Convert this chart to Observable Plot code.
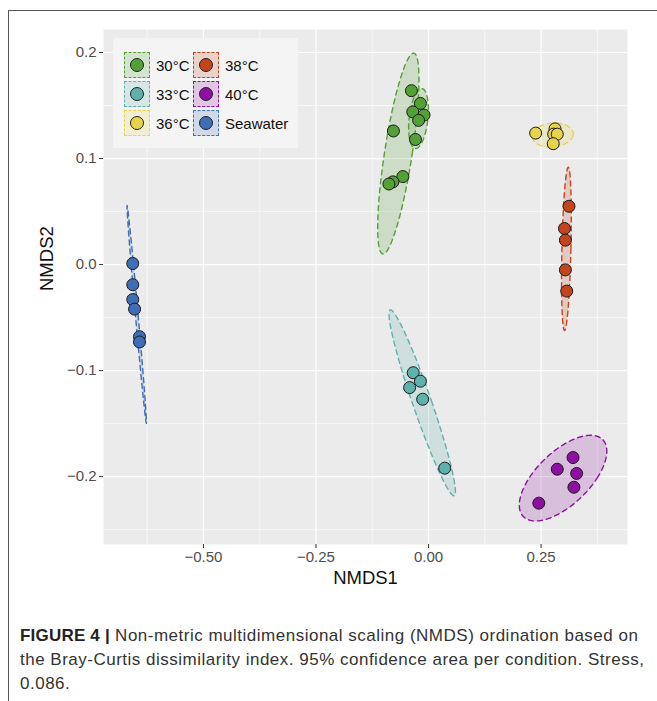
<!DOCTYPE html>
<html>
<head>
<meta charset="utf-8">
<script src="https://cdn.jsdelivr.net/npm/d3@7"></script>
<script src="https://cdn.jsdelivr.net/npm/@observablehq/plot@0.6"></script>
<style>
  html, body { margin: 0; padding: 0; background: #fff; }
  body { width: 657px; height: 701px; position: relative; overflow: hidden; font-family: "Liberation Sans", Arial, sans-serif; }
  #frame { position: absolute; left: 8px; top: 10px; width: 700px; height: 720px; border-left: 1.5px solid #555; border-top: 1.5px solid #555; }
  #chart { position: absolute; left: 0; top: 0; }
  #legend { position: absolute; left: 113px; top: 38px; width: 185px; height: 110px; background: #f4f4f4; }
  .key { position: absolute; width: 26px; height: 26px; box-sizing: border-box; border: 1.5px dashed; }
  .key span { position: absolute; left: 50%; top: 50%; width: 12px; height: 12px; margin: -7px 0 0 -7px; border-radius: 50%; border: 1px solid #222; }
  .lab { position: absolute; font-size: 15px; color: #111; line-height: 17px; }
  #caption { position: absolute; left: 20px; top: 624px; width: 640px; font-size: 17px; letter-spacing: 0.5px; line-height: 24px; color: #333; white-space: nowrap; }
  #caption b { color: #222; letter-spacing: 0.2px; }
</style>
</head>
<body>
<div id="frame"></div>
<div id="chart"></div>
<div id="legend"></div>
<div id="caption"><b>FIGURE 4 |</b> Non-metric multidimensional scaling (NMDS) ordination based on<br>the Bray-Curtis dissimilarity index. 95% confidence area per condition. Stress,<br>0.086.</div>
<script>
// ---- data ----
const groups = ["30°C", "33°C", "36°C", "38°C", "40°C", "Seawater"];
const colors = ["#53a036", "#5fb1ab", "#e7d44b", "#c4441b", "#8e0fa1", "#3f6db6"];

const nmds1_30 = [-0.038, -0.018, -0.035, -0.010, -0.022, -0.078, -0.029, -0.057, -0.079, -0.088];
const nmds2_30 = [0.164, 0.152, 0.144, 0.141, 0.136, 0.126, 0.118, 0.083, 0.078, 0.076];
const nmds1_33 = [-0.034, -0.018, -0.042, -0.013, 0.036];
const nmds2_33 = [-0.102, -0.110, -0.116, -0.127, -0.192];
const nmds1_36 = [0.238, 0.281, 0.278, 0.286, 0.277];
const nmds2_36 = [0.124, 0.128, 0.123, 0.123, 0.114];
const nmds1_38 = [0.312, 0.302, 0.304, 0.304, 0.307];
const nmds2_38 = [0.055, 0.034, 0.023, -0.005, -0.025];
const nmds1_40 = [0.321, 0.286, 0.329, 0.323, 0.245];
const nmds2_40 = [-0.182, -0.193, -0.197, -0.210, -0.225];
const nmds1_sw = [-0.657, -0.657, -0.657, -0.653, -0.642, -0.642];
const nmds2_sw = [0.001, -0.019, -0.033, -0.042, -0.068, -0.073];

// 95% confidence ellipses: centre, topmost point, horizontal half-width through centre
const ellipseGroup = ["30°C", "30°C", "33°C", "36°C", "38°C", "40°C", "Seawater"];
const ellipseCx = [-0.0671, -0.0222, -0.0140, 0.2756, 0.3063, 0.2989, -0.6482];
const ellipseCy = [0.1047, 0.1377, -0.1304, 0.1222, 0.0148, -0.2014, -0.0470];
const ellipseTx = [-0.0333, -0.0156, -0.0844, 0.2800, 0.3104, 0.3600, -0.6696];
const ellipseTy = [0.1994, 0.1660, -0.0427, 0.1335, 0.0918, -0.1610, 0.0557];
const ellipseH = [0.031, 0.021, 0.022, 0.0456, 0.010, 0.0756, 0.003];

const xTicks = [-0.50, -0.25, 0.00, 0.25];
const xMinor = [-0.625, -0.375, -0.125, 0.125, 0.375];
const yTicks = [-0.2, -0.1, 0.0, 0.1, 0.2];
const yMinor = [-0.25, -0.15, -0.05, 0.05, 0.15];

// ---- build tables ----
const seriesX = [nmds1_30, nmds1_33, nmds1_36, nmds1_38, nmds1_40, nmds1_sw];
const seriesY = [nmds2_30, nmds2_33, nmds2_36, nmds2_38, nmds2_40, nmds2_sw];
const points = [];
groups.forEach((g, i) => seriesX[i].forEach((x, j) => points.push({group: g, x, y: seriesY[i][j]})));

const ellipses = ellipseGroup.map((g, k) => {
  const n = 120, pts = [];
  const ux = ellipseTx[k] - ellipseCx[k], uy = ellipseTy[k] - ellipseCy[k];
  for (let i = 0; i < n; i++) {
    const t = 2 * Math.PI * i / n;
    pts.push({x: ellipseCx[k] + ux * Math.sin(t) + ellipseH[k] * Math.cos(t), y: ellipseCy[k] + uy * Math.sin(t)});
  }
  return {group: g, pts};
});
const colorOf = g => colors[groups.indexOf(g)];

const marks = [
  Plot.frame({fill: "#ebebeb", stroke: null}),
  Plot.ruleX(xMinor, {stroke: "#fff", strokeWidth: 0.6}),
  Plot.ruleY(yMinor, {stroke: "#fff", strokeWidth: 0.6}),
  Plot.ruleX(xTicks, {stroke: "#fff", strokeWidth: 1.2}),
  Plot.ruleY(yTicks, {stroke: "#fff", strokeWidth: 1.2}),
];
ellipses.forEach(e => {
  marks.push(Plot.line(e.pts, {x: "x", y: "y", curve: "linear-closed", fill: colorOf(e.group), fillOpacity: 0.2, stroke: "none"}));
  marks.push(Plot.line(e.pts, {x: "x", y: "y", curve: "linear-closed", stroke: colorOf(e.group), strokeWidth: 1.4, strokeDasharray: "5,4"}));
});
marks.push(Plot.dot(points, {x: "x", y: "y", r: 6, fill: d => colorOf(d.group), stroke: "#1a1a1a", strokeWidth: 1}));
marks.push(Plot.axisX(xTicks, {tickSize: 4, tickPadding: 3, fontSize: 15, color: "#4d4d4d", stroke: "#333", tickFormat: d => d3.format(".2f")(d).replace("-", "\u2212"), label: null}));
marks.push(Plot.axisY(yTicks, {tickSize: 4, tickPadding: 3, fontSize: 15, color: "#4d4d4d", stroke: "#333", tickFormat: d => d3.format(".1f")(d).replace("-", "\u2212"), label: null}));
marks.push(Plot.text(["NMDS1"], {frameAnchor: "bottom", dy: 39, fontSize: 18.5, fill: "#111"}));
marks.push(Plot.text(["NMDS2"], {frameAnchor: "left", dx: -56, dy: 4, rotate: -90, fontSize: 18.5, fill: "#111"}));

const chart = Plot.plot({
  width: 657,
  height: 600,
  marginLeft: 103,
  marginRight: 30,
  marginTop: 29,
  marginBottom: 56,
  x: {domain: [-0.722, 0.442]},
  y: {domain: [-0.264, 0.2217]},
  style: {fontFamily: "'Liberation Sans', Arial, sans-serif", background: "transparent", overflow: "visible"},
  marks
});
document.getElementById("chart").appendChild(chart);

// ---- legend ----
const legend = document.getElementById("legend");
groups.forEach((g, i) => {
  const col = Math.floor(i / 3), row = i % 3;
  const kx = 11 + col * 69, ky = 14 + row * 29;
  const key = document.createElement("div");
  key.className = "key";
  key.style.left = kx + "px";
  key.style.top = ky + "px";
  key.style.borderColor = colors[i];
  key.style.background = d3.interpolateRgb("#f4f4f4", colors[i])(0.2);
  const s = document.createElement("span");
  s.style.background = colors[i];
  key.appendChild(s);
  legend.appendChild(key);
  const lab = document.createElement("div");
  lab.className = "lab";
  lab.textContent = g;
  lab.style.left = (kx + 32) + "px";
  lab.style.top = (ky + 5) + "px";
  legend.appendChild(lab);
});
</script>
</body>
</html>
